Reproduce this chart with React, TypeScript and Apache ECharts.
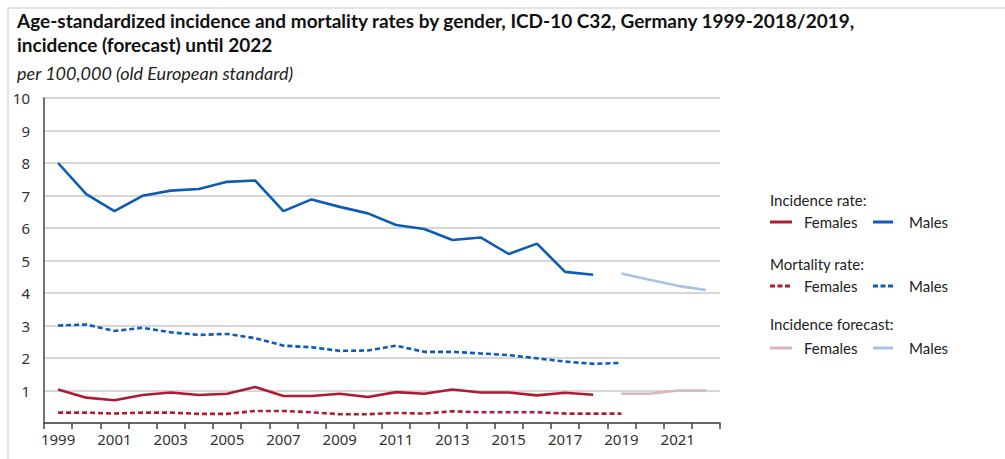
import React, { useEffect, useRef } from "react";
import * as echarts from "echarts";

const years = [
  "1999", "2000", "2001", "2002", "2003", "2004", "2005", "2006", "2007", "2008", "2009", "2010",
  "2011", "2012", "2013", "2014", "2015", "2016", "2017", "2018", "2019", "2020", "2021", "2022",
];

// Incidence 1999-2018
const incidenceMales = [8.0, 7.04, 6.52, 6.99, 7.15, 7.2, 7.42, 7.46, 6.52, 6.88, 6.65, 6.45, 6.09, 5.97, 5.63, 5.71, 5.2, 5.52, 4.65, 4.56];
const incidenceFemales = [1.03, 0.78, 0.7, 0.86, 0.94, 0.86, 0.9, 1.11, 0.83, 0.83, 0.9, 0.8, 0.95, 0.9, 1.03, 0.94, 0.94, 0.85, 0.93, 0.87];
// Mortality 1999-2019
const mortalityMales = [3.0, 3.03, 2.83, 2.93, 2.79, 2.71, 2.74, 2.61, 2.38, 2.33, 2.22, 2.23, 2.38, 2.19, 2.19, 2.14, 2.09, 1.99, 1.89, 1.82, 1.85];
const mortalityFemales = [0.32, 0.32, 0.29, 0.32, 0.32, 0.28, 0.28, 0.37, 0.37, 0.33, 0.27, 0.27, 0.31, 0.29, 0.36, 0.33, 0.33, 0.33, 0.29, 0.29, 0.29];
// Forecast 2019-2022
const forecastYears = ["2019", "2020", "2021", "2022"];
const forecastMales = [4.6, 4.41, 4.22, 4.09];
const forecastFemales = [0.9, 0.9, 1.0, 1.0];

const yTicks = [0, 1, 2, 3, 4, 5, 6, 7, 8, 9, 10];

const titleLines = [
  "Age-standardized incidence and mortality rates by gender, ICD-10 C32, Germany 1999-2018/2019,",
  "incidence (forecast) until 2022",
];
const subtitle = "per 100,000 (old European standard)";

const legendGroups = [
  { header: "Incidence rate:", female: "Females", male: "Males", kind: "incidence" },
  { header: "Mortality rate:", female: "Females", male: "Males", kind: "mortality" },
  { header: "Incidence forecast:", female: "Females", male: "Males", kind: "forecast" },
];

const RED = "#ad1c33";
const BLUE = "#0d5bb8";
const PINK = "#dbb5bb";
const LIGHTBLUE = "#a9c2e4";
const DASH = [5, 3];

function pad(values: number[], offset: number): (number | null)[] {
  return years.map((_, i) => {
    const j = i - offset;
    return j >= 0 && j < values.length ? values[j] : null;
  });
}

export default function App() {
  const ref = useRef<HTMLDivElement>(null);

  useEffect(() => {
    document.body.style.margin = "0";
    if (!ref.current) return;
    const chart = echarts.init(ref.current, undefined, { renderer: "svg" });
    const font = "Lato";
    const forecastOffset = years.indexOf(forecastYears[0]);

    const legendRowsY = [
      [200, 222],
      [264, 286],
      [324, 348],
    ];
    const legendGraphics: any[] = [];
    legendGroups.forEach((g, i) => {
      const [hy, ry] = legendRowsY[i];
      const colF = g.kind === "forecast" ? PINK : RED;
      const colM = g.kind === "forecast" ? LIGHTBLUE : BLUE;
      const dash = g.kind === "mortality" ? [5, 2.5] : null;
      legendGraphics.push({
        type: "text", x: 770, y: hy,
        style: { text: g.header, font: `15px ${font}`, fill: "#222", textVerticalAlign: "middle" },
      });
      legendGraphics.push({
        type: "line", shape: { x1: 770, y1: ry, x2: 792, y2: ry },
        style: { stroke: colF, lineWidth: 3, lineDash: dash },
      });
      legendGraphics.push({
        type: "text", x: 804, y: ry,
        style: { text: g.female, font: `15px ${font}`, fill: "#222", textVerticalAlign: "middle" },
      });
      legendGraphics.push({
        type: "line", shape: { x1: 873, y1: ry, x2: 893, y2: ry },
        style: { stroke: colM, lineWidth: 3, lineDash: dash },
      });
      legendGraphics.push({
        type: "text", x: 909, y: ry,
        style: { text: g.male, font: `15px ${font}`, fill: "#222", textVerticalAlign: "middle" },
      });
    });

    const lineSeries = (name: string, data: (number | null)[], color: string, dashed: boolean, z: number) => ({
      name,
      type: "line",
      data,
      symbol: "none",
      connectNulls: false,
      z,
      lineStyle: { color, width: 2.6, type: dashed ? DASH : "solid" },
    });

    chart.setOption({
      animation: false,
      grid: { left: 44, right: 285, top: 98, bottom: 36 },
      xAxis: {
        type: "category",
        data: years,
        boundaryGap: true,
        axisLine: { lineStyle: { color: "#444", width: 1.5 } },
        axisTick: { show: true, interval: 0, length: 6, lineStyle: { color: "#444", width: 1.5 } },
        axisLabel: { interval: 1, color: "#333", fontSize: 15, fontFamily: "Noto Sans", margin: 8 },
        splitLine: { show: false },
      },
      yAxis: {
        type: "value",
        min: yTicks[0],
        max: yTicks[yTicks.length - 1],
        interval: 1,
        axisLine: { show: true, lineStyle: { color: "#444", width: 1.5 } },
        axisTick: { show: false },
        axisLabel: {
          color: "#333",
          fontSize: 15,
          fontFamily: "Noto Sans",
          margin: 14,
          formatter: (v: number) => (v === 0 ? "" : String(v)),
        },
        splitLine: { lineStyle: { color: "#c8c8c8", width: 1.5 } },
      },
      series: [
        lineSeries("Mortality Females", pad(mortalityFemales, 0), RED, true, 3),
        lineSeries("Mortality Males", pad(mortalityMales, 0), BLUE, true, 3),
        lineSeries("Forecast Females", pad(forecastFemales, forecastOffset), PINK, false, 2),
        lineSeries("Forecast Males", pad(forecastMales, forecastOffset), LIGHTBLUE, false, 2),
        lineSeries("Incidence Females", pad(incidenceFemales, 0), RED, false, 4),
        lineSeries("Incidence Males", pad(incidenceMales, 0), BLUE, false, 4),
      ],
      graphic: [
        { type: "line", shape: { x1: 8, y1: 8, x2: 1005, y2: 8 }, style: { stroke: "#c8c8c8", lineWidth: 1 } },
        { type: "line", shape: { x1: 8, y1: 8, x2: 8, y2: 459 }, style: { stroke: "#c8c8c8", lineWidth: 1 } },
        {
          type: "text", x: 17, y: 20,
          style: { text: titleLines[0], font: `bold 19px ${font}`, fill: "#111", textVerticalAlign: "middle" },
        },
        {
          type: "text", x: 17, y: 44,
          style: { text: titleLines[1], font: `bold 19px ${font}`, fill: "#111", textVerticalAlign: "middle" },
        },
        {
          type: "text", x: 17, y: 73,
          style: { text: subtitle, font: `italic 18px ${font}`, fill: "#222", textVerticalAlign: "middle" },
        },
        ...legendGraphics,
      ],
    });

    return () => chart.dispose();
  }, []);

  return <div ref={ref} style={{ width: 1005, height: 459 }} />;
}
